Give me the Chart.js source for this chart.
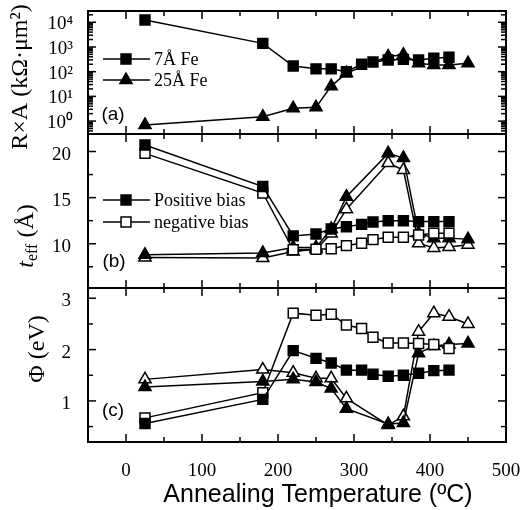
<!DOCTYPE html>
<html>
<head>
<meta charset="utf-8">
<script src="https://cdn.jsdelivr.net/npm/chart.js@4.4.1/dist/chart.umd.min.js"></script>
<style>
  html, body { margin: 0; padding: 0; background: #fff; }
  #wrap { width: 530px; height: 510px; }
</style>
</head>
<body>
<div id="wrap"><canvas id="chart" width="530" height="510"></canvas></div>
<script>
// annealing temperatures (ºC)
const tempSq = [25, 180, 220, 250, 270, 290, 310, 325, 345, 365, 385, 405, 425];
const tempTri = [25, 180, 220, 250, 270, 290, 345, 365, 385, 405, 425, 450];

// (a) R x A in kOhm.um^2
const rxa7 = [12300, 1400, 170, 130, 130, 100, 200, 245, 295, 315, 295, 350, 385];
const rxa25 = [0.7, 1.5, 3.3, 3.6, 26, 87, 410, 480, 220, 185, 185, 220];

// (b) effective thickness in Å
const tPos7 = [20.7, 16.2, 10.85, 11.05, 11.6, 11.85, 12.1, 12.35, 12.5, 12.5, 12.4, 12.4, 12.4];
const tNeg7 = [19.8, 15.5, 9.35, 9.4, 9.45, 9.8, 10.05, 10.45, 10.7, 10.7, 10.95, 11.15, 11.15];
const tPos25 = [8.8, 9.0, 9.6, 9.6, 11.6, 15.1, 19.8, 19.3, 11.15, 10.6, 10.6, 10.5];
const tNeg25 = [8.5, 8.45, 9.15, 9.4, 11.1, 13.75, 18.75, 18.0, 10.05, 9.55, 9.65, 9.9];

// (c) barrier height in eV
const phiPos7 = [0.56, 1.03, 1.98, 1.83, 1.74, 1.6, 1.6, 1.52, 1.48, 1.5, 1.54, 1.59, 1.6];
const phiNeg7 = [0.67, 1.16, 2.71, 2.67, 2.69, 2.48, 2.41, 2.24, 2.13, 2.13, 2.12, 2.1, 2.02];
const phiPos25 = [1.27, 1.38, 1.42, 1.37, 1.24, 0.85, 0.55, 0.57, 1.93, 2.07, 2.1, 2.12];
const phiNeg25 = [1.42, 1.61, 1.55, 1.44, 1.44, 1.05, 0.53, 0.7, 2.35, 2.71, 2.64, 2.5];

// legends
const legendA = ["7Å Fe", "25Å Fe"];
const legendB = ["Positive bias", "negative bias"];

// ticks
const xTicks = [0, 100, 200, 300, 400, 500];
const xMinor = [50, 150, 250, 350, 450];
const rxaTicks = [1, 10, 100, 1000, 10000];
const rxaLabels = ["10⁰", "10¹", "10²", "10³", "10⁴"];
const tTicks = [10, 15, 20];
const tMinor = [7.5, 12.5, 17.5];
const phiTicks = [1, 2, 3];
const phiMinor = [0.5, 1.5, 2.5];

const serif = "'Liberation Serif', 'Times New Roman', serif";
const sans = "'Liberation Sans', Arial, sans-serif";
Chart.defaults.color = "#000";
Chart.defaults.font.family = serif;

function pts(xs, ys) {
    return xs.map((x, i) => ({ x: x, y: ys[i] }));
}

function series(label, xs, ys, axis, shape, filled) {
    return {
        label: label,
        data: pts(xs, ys),
        yAxisID: axis,
        borderColor: "#000",
        borderWidth: 1.5,
        tension: 0,
        fill: false,
        pointStyle: shape,
        pointRadius: 7,
        pointBorderWidth: 1.5,
        pointBorderColor: "#000",
        pointBackgroundColor: filled ? "#000" : "#fff"
    };
}

function logMinor(min, max) {
    const out = [];
    for (let d = 0.1; d <= 10000; d *= 10) {
        for (let k = 2; k <= 9; k++) {
            const v = k * d;
            if (v > min && v < max) out.push(v);
        }
    }
    return out;
}

function fixTicks(major, minor) {
    return s => {
        s.ticks = major.concat(minor).sort((a, b) => a - b).map(v => ({ value: v }));
    };
}

function labelFrom(major, labels) {
    return v => {
        const i = major.findIndex(m => Math.abs(m - v) < 1e-9);
        return i < 0 ? "" : labels[i];
    };
}

function yFit(s) {
    s.width = 88;
    s.paddingTop = 0;
    s.paddingBottom = 0;
}

const tickFont = { family: serif, size: 19 };

// frames and inward ticks of the three panels
const panelFrames = {
    id: "panelFrames",
    beforeDatasetsDraw(chart) {
        const ctx = chart.ctx;
        const x = chart.scales.x;
        ctx.save();
        ctx.strokeStyle = "#000";
        const seg = (x1, y1, x2, y2) => {
            ctx.beginPath();
            ctx.moveTo(x1, y1);
            ctx.lineTo(x2, y2);
            ctx.stroke();
        };
        ["ya", "yb", "yc"].forEach(id => {
            const y = chart.scales[id];
            ctx.lineWidth = 1.5;
            y.ticks.forEach(t => {
                const py = y.getPixelForValue(t.value);
                const len = t.label ? 8 : 5;
                seg(x.left, py, x.left + len, py);
                seg(x.right, py, x.right - len, py);
            });
            x.ticks.forEach(t => {
                const px = x.getPixelForValue(t.value);
                const len = t.label ? 8 : 5;
                seg(px, y.top, px, y.top + len);
                seg(px, y.bottom, px, y.bottom - len);
            });
            ctx.lineWidth = 2;
            ctx.strokeRect(x.left, y.top, x.right - x.left, y.bottom - y.top);
        });
        ctx.restore();
    }
};

// legends, panel letters and axis titles
const overlay = {
    id: "overlay",
    afterDraw(chart) {
        const ctx = chart.ctx;
        const sets = chart.data.datasets;
        ctx.save();

        const rows = [
            { label: legendA[0], y: 59 },
            { label: legendA[1], y: 80 },
            { label: legendB[0], y: 200 },
            { label: legendB[1], y: 222 }
        ];
        rows.forEach(r => {
            const d = sets.find(s => s.label === r.label);
            ctx.strokeStyle = "#000";
            ctx.lineWidth = 1.5;
            ctx.beginPath();
            ctx.moveTo(103, r.y);
            ctx.lineTo(150, r.y);
            ctx.stroke();
            ctx.fillStyle = d.pointBackgroundColor;
            Chart.helpers.drawPoint(ctx, { pointStyle: d.pointStyle, radius: d.pointRadius, borderWidth: d.pointBorderWidth, rotation: 0 }, 126, r.y);
            ctx.fillStyle = "#000";
            ctx.font = "18px " + serif;
            ctx.textAlign = "left";
            ctx.textBaseline = "middle";
            ctx.fillText(r.label, 154, r.y + 1);
        });

        ctx.font = "19px " + sans;
        ctx.textAlign = "center";
        ctx.textBaseline = "middle";
        ctx.fillText("(a)", 113, 115);
        ctx.fillText("(b)", 114, 262);
        ctx.fillText("(c)", 113, 411);

        // x title sits a little right of the plot centre
        ctx.font = "25px " + sans;
        ctx.fillText("Annealing Temperature (ºC)", 318, 495);

        // rotated y titles
        const rotated = (cx, cy, parts) => {
            ctx.save();
            ctx.translate(cx, cy);
            ctx.rotate(-Math.PI / 2);
            ctx.textAlign = "left";
            ctx.textBaseline = "middle";
            let w = 0;
            parts.forEach(p => { ctx.font = p.font; w += ctx.measureText(p.text).width; });
            let px = -w / 2;
            parts.forEach(p => {
                ctx.font = p.font;
                ctx.fillText(p.text, px, p.dy || 0);
                px += ctx.measureText(p.text).width;
            });
            ctx.restore();
        };
        rotated(21, 77, [{ text: "R×A (kΩ·μm²)", font: "24px " + serif }]);
        rotated(27, 236, [
            { text: "t", font: "italic 24px " + serif },
            { text: "eff", font: "16px " + serif, dy: 6 },
            { text: " (Å)", font: "24px " + serif }
        ]);
        rotated(38, 349, [{ text: "Φ (eV)", font: "24px " + serif }]);
        ctx.restore();
    }
};

new Chart(document.getElementById("chart"), {
    type: "line",
    data: {
        datasets: [
            series(legendA[0], tempSq, rxa7, "ya", "rect", true),
            series(legendA[1], tempTri, rxa25, "ya", "triangle", true),
            series(legendB[0], tempSq, tPos7, "yb", "rect", true),
            series(legendB[1], tempSq, tNeg7, "yb", "rect", false),
            series("25Å Fe positive", tempTri, tPos25, "yb", "triangle", true),
            series("25Å Fe negative", tempTri, tNeg25, "yb", "triangle", false),
            series("7Å Fe positive", tempSq, phiPos7, "yc", "rect", true),
            series("7Å Fe negative", tempSq, phiNeg7, "yc", "rect", false),
            series("25Å Fe positive Φ", tempTri, phiPos25, "yc", "triangle", true),
            series("25Å Fe negative Φ", tempTri, phiNeg25, "yc", "triangle", false)
        ]
    },
    options: {
        responsive: false,
        animation: false,
        events: [],
        devicePixelRatio: 1,
        layout: { padding: { top: 11, right: 24, left: 0, bottom: 0 } },
        plugins: { legend: { display: false }, tooltip: { enabled: false } },
        scales: {
            x: {
                type: "linear",
                position: "bottom",
                min: -50,
                max: 500,
                afterBuildTicks: fixTicks(xTicks, xMinor),
                afterFit: s => { s.height = 68; s.paddingLeft = 0; s.paddingRight = 0; },
                grid: { display: false },
                border: { display: false },
                ticks: {
                    autoSkip: false,
                    maxRotation: 0,
                    padding: 10,
                    font: tickFont,
                    callback: labelFrom(xTicks, xTicks.map(String))
                }
            },
            ya: {
                type: "logarithmic",
                position: "left",
                stack: "panels",
                stackWeight: 123,
                weight: 3,
                min: 0.3,
                max: 28600,
                afterBuildTicks: fixTicks(rxaTicks, logMinor(0.3, 28600)),
                afterFit: yFit,
                grid: { display: false },
                border: { display: false },
                ticks: { autoSkip: false, padding: 7, labelOffset: 2, font: tickFont, callback: labelFrom(rxaTicks, rxaLabels) }
            },
            yb: {
                type: "linear",
                position: "left",
                stack: "panels",
                stackWeight: 154,
                weight: 2,
                min: 5.2,
                max: 21.9,
                afterBuildTicks: fixTicks(tTicks, tMinor),
                afterFit: yFit,
                grid: { display: false },
                border: { display: false },
                ticks: { autoSkip: false, padding: 9, labelOffset: 3, font: tickFont, callback: labelFrom(tTicks, tTicks.map(String)) }
            },
            yc: {
                type: "linear",
                position: "left",
                stack: "panels",
                stackWeight: 154,
                weight: 1,
                min: 0.2,
                max: 3.2,
                afterBuildTicks: fixTicks(phiTicks, phiMinor),
                afterFit: yFit,
                grid: { display: false },
                border: { display: false },
                ticks: { autoSkip: false, padding: 9, labelOffset: 3, font: tickFont, callback: labelFrom(phiTicks, phiTicks.map(String)) }
            }
        }
    },
    plugins: [panelFrames, overlay]
});
</script>
</body>
</html>
